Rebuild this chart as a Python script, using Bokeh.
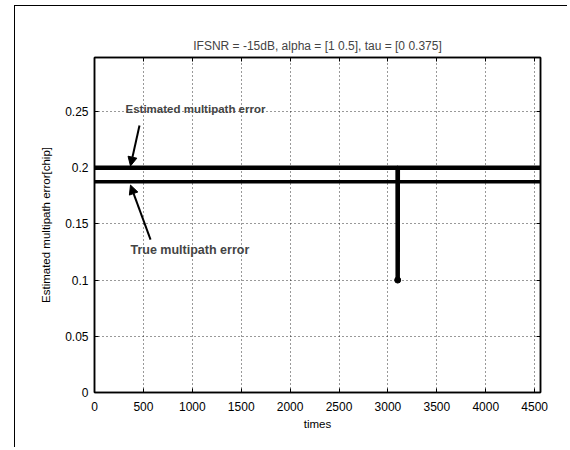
from bokeh.plotting import figure
from bokeh.models import (LinearAxis, FixedTicker, Arrow, NormalHead, Label,
                          Range1d, CustomJSTickFormatter, ColumnDataSource)
from bokeh.embed import file_html
from bokeh.resources import INLINE

# ---- data ----
times_est = [1, 3099, 3100, 3101, 4560]
est_error = [0.2, 0.2, 0.1, 0.2, 0.2]
times_true = [1, 4560]
true_error = [0.1875, 0.1875]
outlier_time = [3100]
outlier_error = [0.1]

x_ticks = [0, 500, 1000, 1500, 2000, 2500, 3000, 3500, 4000, 4500]
y_ticks = [0, 0.05, 0.1, 0.15, 0.2, 0.25]

title = "IFSNR = -15dB, alpha = [1 0.5], tau = [0 0.375]"
FONT = "Liberation Sans"

p = figure(width=553, height=442, x_range=Range1d(0, 4560), y_range=Range1d(0, 0.298),
           output_backend="svg", toolbar_location=None, title=title,
           min_border_left=79, min_border_right=28, min_border_top=51, min_border_bottom=56)
p.margin = (6, 0, 0, 15)
p.styles = {"box-shadow": "-1px -1px 0px 0px #000"}
p.border_fill_alpha = 0

p.title.align = "center"
p.title.text_font = FONT
p.title.text_font_size = "12px"
p.title.text_font_style = "normal"
p.title.offset = 0

p.outline_line_color = "black"
p.outline_line_width = 1.5

fmt = CustomJSTickFormatter(code="return String(Math.round(tick*1000)/1000);")
blank = CustomJSTickFormatter(code="return '';")

for ax in p.xaxis:
    ax.ticker = FixedTicker(ticks=x_ticks)
    ax.formatter = fmt
    ax.axis_label = "times"
for ax in p.yaxis:
    ax.ticker = FixedTicker(ticks=y_ticks)
    ax.formatter = fmt
    ax.axis_label = "Estimated multipath error[chip]"

for ax in list(p.xaxis) + list(p.yaxis):
    ax.major_tick_in = 4
    ax.major_tick_out = 0
    ax.minor_tick_line_color = None
    ax.axis_line_width = 1.5
    ax.axis_line_color = "black"
    ax.major_tick_line_color = "black"
    ax.major_label_text_font = FONT
    ax.major_label_text_font_size = "12px"
    ax.major_label_text_color = "black"
    ax.axis_label_text_font = FONT
    ax.axis_label_text_font_size = "11.5px"
    ax.axis_label_text_font_style = "normal"
    ax.axis_label_text_color = "black"

p.xaxis.major_label_standoff = 9
p.xaxis.axis_label_standoff = 4
p.yaxis.major_label_standoff = 6
p.yaxis.axis_label_standoff = 10

right = LinearAxis(ticker=FixedTicker(ticks=y_ticks), formatter=blank,
                   major_tick_in=4, major_tick_out=0, minor_tick_line_color=None,
                   axis_line_width=1.5, major_label_standoff=0)
top = LinearAxis(ticker=FixedTicker(ticks=x_ticks), formatter=blank,
                 major_tick_in=4, major_tick_out=0, minor_tick_line_color=None,
                 axis_line_width=1.5, major_label_standoff=0)
p.add_layout(right, "right")
p.add_layout(top, "above")

p.grid.grid_line_color = "black"
p.grid.grid_line_dash = "1 3"
p.grid.grid_line_width = 1
p.grid.grid_line_alpha = 0.8
p.xgrid.ticker = FixedTicker(ticks=x_ticks)
p.ygrid.ticker = FixedTicker(ticks=y_ticks)

est_src = ColumnDataSource(dict(t=times_est, e=est_error))
true_src = ColumnDataSource(dict(t=times_true, e=true_error))
p.line("t", "e", source=true_src, line_color="black", line_width=3.5)
p.line("t", "e", source=est_src, line_color="black", line_width=4.5)
p.scatter(outlier_time, outlier_error, size=6, color="black")

p.add_layout(Label(x=317, y=0.2518, text="Estimated multipath error",
                   text_font=FONT, text_font_style="bold", text_font_size="11.5px",
                   text_baseline="middle"))
p.add_layout(Label(x=368, y=0.127, text="True multipath error",
                   text_font=FONT, text_font_style="bold", text_font_size="12.5px",
                   text_baseline="middle"))
p.add_layout(Arrow(end=NormalHead(size=9, fill_color="black", line_color="black"),
                   x_start=460, y_start=0.2375, x_end=368, y_end=0.2015,
                   line_width=2, line_color="black"))
p.add_layout(Arrow(end=NormalHead(size=9, fill_color="black", line_color="black"),
                   x_start=573, y_start=0.136, x_end=368, y_end=0.1845,
                   line_width=2, line_color="black"))

open("out.html", "w").write(file_html(p, INLINE))
